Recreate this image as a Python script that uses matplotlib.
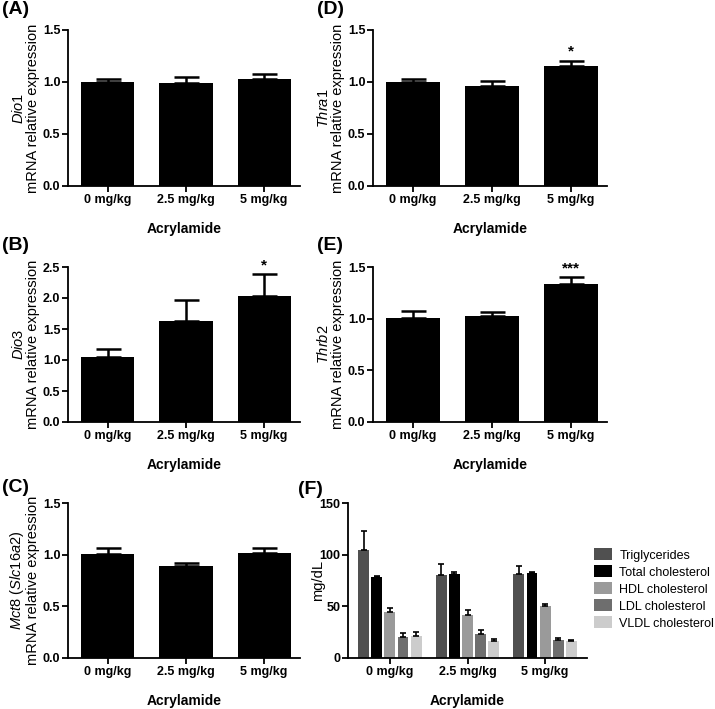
import matplotlib
matplotlib.use("Agg")
import matplotlib.pyplot as plt
import numpy as np

plt.rcParams['font.family'] = ['Liberation Sans', 'DejaVu Sans']
plt.rcParams['mathtext.fontset'] = 'custom'
plt.rcParams['mathtext.rm'] = 'Liberation Sans'
plt.rcParams['mathtext.it'] = 'Liberation Sans:italic'

doses = ["0 mg/kg", "2.5 mg/kg", "5 mg/kg"]

dio1_mean = [1.00, 0.99, 1.03]
dio1_sem = [0.03, 0.06, 0.05]
thra1_mean = [1.00, 0.965, 1.15]
thra1_sem = [0.03, 0.045, 0.05]
dio3_mean = [1.05, 1.63, 2.03]
dio3_sem = [0.13, 0.33, 0.35]
thrb2_mean = [1.01, 1.03, 1.34]
thrb2_sem = [0.06, 0.03, 0.06]
mct8_mean = [1.01, 0.89, 1.02]
mct8_sem = [0.05, 0.03, 0.04]

lipid_names = ["Triglycerides", "Total cholesterol", "HDL cholesterol",
               "LDL cholesterol", "VLDL cholesterol"]
lipid_mean = {
    "Triglycerides": [105, 80, 81],
    "Total cholesterol": [78, 81, 82],
    "HDL cholesterol": [45, 42, 50],
    "LDL cholesterol": [20, 23, 17],
    "VLDL cholesterol": [21, 16, 16],
}
lipid_sem = {
    "Triglycerides": [18, 11, 8],
    "Total cholesterol": [1.5, 2, 1],
    "HDL cholesterol": [3, 4, 2],
    "LDL cholesterol": [4, 4, 2.5],
    "VLDL cholesterol": [4, 2, 1.5],
}
lipid_colors = ["#505050", "#000000", "#9a9a9a", "#6e6e6e", "#cccccc"]

W, H = 715, 709
fig = plt.figure(figsize=(W / 100, H / 100), dpi=100)


def axes_px(x0, y0, x1, y1):
    return fig.add_axes([x0 / W, 1 - y1 / H, (x1 - x0) / W, (y1 - y0) / H])


def style(ax):
    for s in ["top", "right"]:
        ax.spines[s].set_visible(False)
    for s in ["left", "bottom"]:
        ax.spines[s].set_linewidth(1.3)
    ax.tick_params(axis="both", direction="out", width=1.3, length=4,
                   labelsize=9, pad=1.5)
    for lab in ax.get_xticklabels() + ax.get_yticklabels():
        lab.set_fontweight("bold")


def bar_panel(ax, mean, sem, gene, ymax, ystep, stars=None):
    x = np.arange(len(doses))
    ax.bar(x, mean, width=0.68, color="black")
    ax.errorbar(x, mean, yerr=[np.zeros(len(sem)), sem], fmt="none",
                ecolor="black", elinewidth=1.8, capsize=9, capthick=1.8)
    ax.set_xlim(-0.51, 2.46)
    ax.set_ylim(0, ymax)
    ax.set_yticks(np.arange(0, ymax + 1e-9, ystep))
    ax.set_yticklabels([f"{v:.1f}" for v in np.arange(0, ymax + 1e-9, ystep)])
    ax.set_xticks(x)
    ax.set_xticklabels(doses)
    ax.set_ylabel(r"$\mathit{" + gene + "}$" + "\nmRNA relative expression",
                  fontsize=10.5, linespacing=1.0)
    ax.yaxis.set_label_coords(-0.12, 0.5)
    ax.set_xlabel("Acrylamide", fontsize=10, fontweight="bold", labelpad=12)
    if stars:
        i, s = stars
        ax.text(x[i], mean[i] + sem[i] + ymax * 0.015, s, ha="center",
                va="bottom", fontsize=11, fontweight="bold")
    style(ax)


axA = axes_px(68, 30, 300, 186)
bar_panel(axA, dio1_mean, dio1_sem, "Dio1", 1.5, 0.5)
axD = axes_px(373, 30, 607, 186)
bar_panel(axD, thra1_mean, thra1_sem, "Thra1", 1.5, 0.5, (2, "*"))
axB = axes_px(68, 267, 300, 422)
bar_panel(axB, dio3_mean, dio3_sem, "Dio3", 2.5, 0.5, (2, "*"))
axE = axes_px(373, 267, 607, 422)
bar_panel(axE, thrb2_mean, thrb2_sem, "Thrb2", 1.5, 0.5, (2, "***"))
axC = axes_px(68, 503, 300, 658)
bar_panel(axC, mct8_mean, mct8_sem, r"Mct8\ (Slc16a2)", 1.5, 0.5)

# Panel F
axF = axes_px(348, 503, 587, 658)
x = np.arange(len(doses))
slot = 0.169
bw = 0.14
for k, name in enumerate(lipid_names):
    xs = x + (k - 2) * slot
    axF.bar(xs, lipid_mean[name], width=bw, color=lipid_colors[k], label=name)
    axF.errorbar(xs, lipid_mean[name],
                 yerr=[np.zeros(3), lipid_sem[name]], fmt="none",
                 ecolor="black", elinewidth=1.2, capsize=2.5, capthick=1.2)
axF.set_xlim(-0.54, 2.54)
axF.set_ylim(0, 150)
axF.set_yticks([0, 50, 100, 150])
axF.set_xticks(x)
axF.set_xticklabels(doses)
axF.set_ylabel("mg/dL", fontsize=10.5)
axF.yaxis.set_label_coords(-0.096, 0.5)
axF.set_xlabel("Acrylamide", fontsize=10, fontweight="bold", labelpad=12)
style(axF)
axF.legend(loc="center left", bbox_to_anchor=(1.01, 0.445), frameon=False,
           fontsize=9, handlelength=1.4, handleheight=1.1, labelspacing=0.3,
           handletextpad=0.6, borderaxespad=0)

for lab, (px, py) in {"(A)": (2, 10), "(D)": (317, 10), "(B)": (2, 245),
                      "(E)": (317, 245), "(C)": (2, 487),
                      "(F)": (298, 489)}.items():
    fig.text(px / W, 1 - py / H, lab, fontsize=14, fontweight="bold",
             ha="left", va="center")

fig.savefig("out.png", dpi=100)
